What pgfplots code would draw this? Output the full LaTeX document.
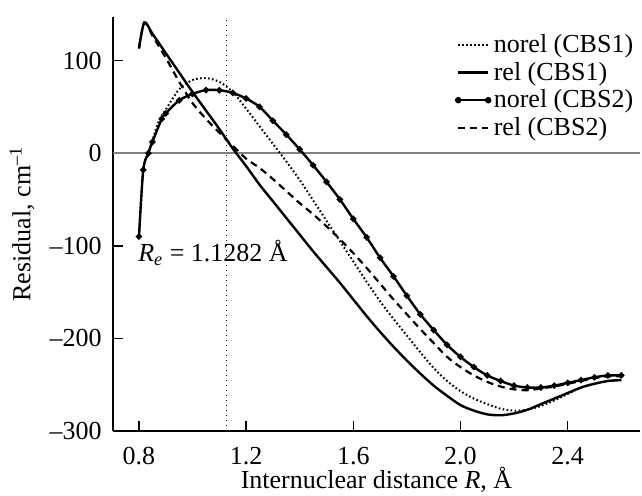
\documentclass[border=0pt]{standalone}
\usepackage{fontspec}
\setmainfont{Liberation Serif}
\usepackage{pgfplots}
\pgfplotsset{compat=1.18}

\begin{document}
\begin{tikzpicture}[font=\fontsize{13}{15}\selectfont]
\path[use as bounding box] (-56.5pt,-32pt) rectangle (264.5pt,215.5pt);
\begin{axis}[
    at={(0,0)}, anchor=south west,
    scale only axis, width=263.5pt, height=207pt,
    xmin=0.703, xmax=2.67, ymin=-300, ymax=147,
    axis lines*=left,
    axis line style={line width=1pt},
    tick align=inside,
    major tick length=5pt,
    tick style={line width=0.8pt, black},
    xtick={0.8,1.2,1.6,2.0,2.4},
    xticklabels={0.8,1.2,1.6,2.0,2.4},
    ytick={-300,-200,-100,0,100},
    yticklabels={\textendash300,\textendash200,\textendash100,0,100},
    xticklabel style={anchor=base, yshift=-16.5pt},
    yticklabel style={xshift=-2.2pt},
    every axis x label/.style={at={(axis description cs:0.5,0)}, yshift=-28.8pt, anchor=base},
    every axis y label/.style={at={(axis description cs:0,0.5)}, xshift=-45.5pt, rotate=90, anchor=center},
    xlabel={Internuclear distance \textit{R}, Å},
    ylabel={Residual, cm\textsuperscript{\textendash1}},
    legend cell align=left,
    legend style={draw=none, fill=none, at={(1,1)}, anchor=north east,
        xshift=1pt, yshift=-5pt, row sep=0.3pt,
        nodes={inner xsep=1.2pt, inner ysep=1.5pt}},
    legend image code/.code={\draw[#1] (0pt,0pt) -- (15pt,0pt);},
]
% reference lines
\addplot[gray, line width=0.7pt, forget plot] coordinates {(0.703,0) (2.67,0)};
\addplot[black, line width=0.5pt, dotted, forget plot] coordinates {(1.1282,-300) (1.1282,147)};

% norel (CBS1)
\addplot[black, line width=1pt, dash pattern=on 0.8pt off 1.2pt, smooth] coordinates {
(0.80,-90) (0.816,-18) (0.835,0) (0.85,14) (0.875,35) (0.90,47) (0.95,69) (1.00,79)
(1.05,81) (1.10,77) (1.15,66) (1.20,48) (1.25,29) (1.30,10) (1.35,-9) (1.40,-29)
(1.45,-51) (1.50,-73) (1.55,-95) (1.60,-117) (1.65,-139) (1.70,-160) (1.75,-179)
(1.80,-197) (1.85,-215) (1.90,-232) (1.95,-246) (2.00,-257) (2.05,-265) (2.10,-271)
(2.15,-276) (2.20,-278) (2.25,-277) (2.30,-273) (2.35,-267) (2.40,-260) (2.45,-253)
(2.50,-249) (2.55,-246) (2.60,-245)};
\addlegendentry{norel (CBS1)}

% rel (CBS1)
\addplot[black, line width=1.2pt, smooth] coordinates {
(0.80,113) (0.82,141) (0.85,129) (0.90,108) (0.95,87) (1.00,66) (1.05,46) (1.10,26)
(1.15,5) (1.20,-14) (1.25,-34) (1.30,-52) (1.35,-70) (1.40,-88) (1.45,-106) (1.50,-123)
(1.55,-140) (1.60,-158) (1.65,-176) (1.70,-193) (1.75,-209) (1.80,-224) (1.85,-238)
(1.90,-251) (1.95,-262) (2.00,-272) (2.05,-278) (2.10,-282) (2.15,-283) (2.20,-281)
(2.25,-277) (2.30,-271) (2.35,-265) (2.40,-259) (2.45,-253) (2.50,-249) (2.55,-246)
(2.60,-245)};
\addlegendentry{rel (CBS1)}

% norel (CBS2)
\addplot[black, line width=1.2pt, smooth, mark=*, mark size=0.9pt,
    legend image code/.code={\draw[black, line width=1.2pt] (0pt,0pt) -- (15pt,0pt);
        \fill[black] (0pt,0pt) circle (1pt); \fill[black] (15pt,0pt) circle (1pt);}] coordinates {
(0.80,-90) (0.816,-18) (0.835,0) (0.85,12) (0.885,37) (0.90,43) (0.95,57) (1.00,64)
(1.05,68) (1.10,68) (1.15,65) (1.20,59) (1.25,50) (1.30,35) (1.35,20) (1.40,4)
(1.45,-13) (1.50,-31) (1.55,-50) (1.60,-71) (1.65,-91) (1.70,-113) (1.75,-133)
(1.80,-154) (1.85,-174) (1.90,-191) (1.95,-207) (2.00,-220) (2.05,-231) (2.10,-240)
(2.15,-246) (2.20,-251) (2.25,-253) (2.30,-253) (2.35,-251) (2.40,-248) (2.45,-245)
(2.50,-242) (2.55,-240) (2.60,-240)};
\addlegendentry{norel (CBS2)}

% rel (CBS2)
\addplot[black, line width=1.1pt, dash pattern=on 3.5pt off 2.5pt, smooth] coordinates {
(0.80,113) (0.82,141) (0.85,127) (0.90,103) (0.95,77) (1.00,54) (1.05,37) (1.10,22)
(1.15,8) (1.20,-6) (1.25,-16) (1.30,-28) (1.35,-41) (1.40,-54) (1.45,-66) (1.50,-79)
(1.55,-93) (1.60,-108) (1.65,-124) (1.70,-141) (1.75,-158) (1.80,-174) (1.85,-190)
(1.90,-205) (1.95,-220) (2.00,-231) (2.05,-240) (2.10,-247) (2.15,-252) (2.20,-255)
(2.25,-256) (2.30,-254) (2.35,-252) (2.40,-249) (2.45,-246) (2.50,-243) (2.55,-241)
(2.60,-241)};
\addlegendentry{rel (CBS2)}

\node[anchor=base west, inner sep=0pt] at (axis cs:0.796,-117)
    {\textit{R}\textsubscript{\textit{e}} = 1.1282 Å};
\end{axis}
\end{tikzpicture}
\end{document}
